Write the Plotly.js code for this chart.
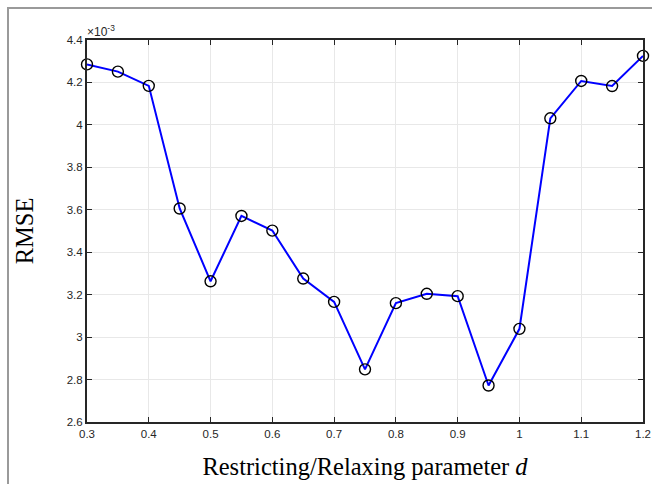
<!DOCTYPE html>
<html>
<head>
<meta charset="utf-8">
<script src="https://cdn.plot.ly/plotly-3.0.1.min.js"></script>
<style>
html,body{margin:0;padding:0;background:#fff;}
#wrap{position:relative;width:652px;height:484px;overflow:hidden;}
#chart{position:absolute;left:0;top:0;width:652px;height:484px;}
#frame{position:absolute;left:7px;top:7px;width:700px;height:600px;border-left:2px solid #9a9a9a;border-top:2px solid #9a9a9a;pointer-events:none;}
</style>
</head>
<body>
<div id="wrap"><div id="chart"></div><div id="frame"></div></div>
<script>
// Restricting/Relaxing parameter d
const dValues = [0.3, 0.35, 0.4, 0.45, 0.5, 0.55, 0.6, 0.65, 0.7, 0.75, 0.8, 0.85, 0.9, 0.95, 1.0, 1.05, 1.1, 1.15, 1.2];
// RMSE values
const rmse = [4.285e-3, 4.251e-3, 4.184e-3, 3.606e-3, 3.263e-3, 3.571e-3, 3.502e-3, 3.276e-3, 3.166e-3, 2.848e-3,
              3.160e-3, 3.204e-3, 3.193e-3, 2.772e-3, 3.039e-3, 4.031e-3, 4.207e-3, 4.183e-3, 4.325e-3];
const yScale = 1e3; // axis shown in units of 10^-3
const xTicks = [0.3, 0.4, 0.5, 0.6, 0.7, 0.8, 0.9, 1.0, 1.1, 1.2];
const xTickText = ['0.3', '0.4', '0.5', '0.6', '0.7', '0.8', '0.9', '1', '1.1', '1.2'];
const yTicks = [2.6, 2.8, 3.0, 3.2, 3.4, 3.6, 3.8, 4.0, 4.2, 4.4];
const yTickText = ['2.6', '2.8', '3', '3.2', '3.4', '3.6', '3.8', '4', '4.2', '4.4'];

const trace = {
  x: dValues,
  y: rmse.map(v => v * yScale),
  mode: 'lines+markers',
  type: 'scatter',
  line: {color: '#0000ff', width: 2},
  marker: {symbol: 'circle-open', size: 11, color: '#000000', line: {width: 1.4, color: '#000000'}},
  cliponaxis: false,
  hoverinfo: 'skip'
};

const axisCommon = {
  showline: true, linecolor: '#262626', linewidth: 2, mirror: 'ticks',
  ticks: 'inside', ticklen: 5, tickwidth: 1, tickcolor: '#262626',
  showgrid: true, gridcolor: '#e8e8e8', gridwidth: 1, zeroline: false,
  tickfont: {family: 'Liberation Sans, Arial, sans-serif', size: 11.5, color: '#262626'}
};

const layout = {
  width: 652, height: 484,
  margin: {l: 87, r: 9, t: 40, b: 62},
  paper_bgcolor: '#ffffff', plot_bgcolor: '#ffffff',
  showlegend: false,
  xaxis: Object.assign({}, axisCommon, {
    range: [0.3, 1.2], tickvals: xTicks, ticktext: xTickText,
    title: {text: 'Restricting/Relaxing parameter <i>d</i>', standoff: 19,
            font: {family: 'Liberation Serif, Times New Roman, serif', size: 24.5, color: '#000000'}}
  }),
  yaxis: Object.assign({}, axisCommon, {
    range: [2.6, 4.4], tickvals: yTicks, ticktext: yTickText,
    title: {text: 'RMSE', standoff: 26,
            font: {family: 'Liberation Serif, Times New Roman, serif', size: 24.5, color: '#000000'}}
  }),
  annotations: [{
    xref: 'paper', yref: 'paper', x: 0, y: 1, xanchor: 'left', yanchor: 'bottom',
    text: '\u00d710<sup>-3</sup>', showarrow: false, yshift: -1, xshift: -2,
    font: {family: 'Liberation Sans, Arial, sans-serif', size: 12, color: '#262626'}
  }]
};

Plotly.newPlot('chart', [trace], layout, {staticPlot: true, displayModeBar: false});
</script>
</body>
</html>
